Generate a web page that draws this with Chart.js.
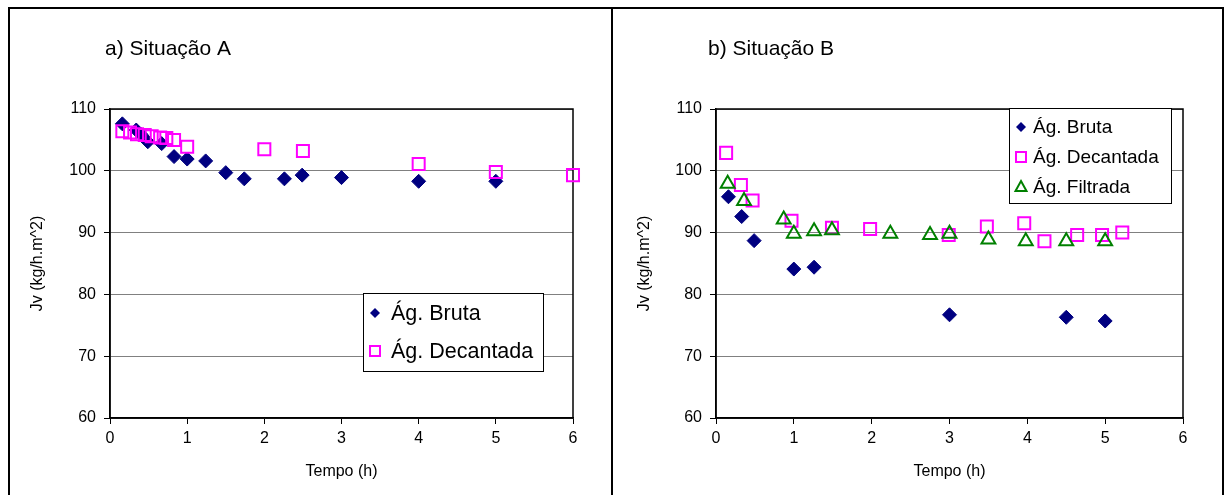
<!DOCTYPE html>
<html>
<head>
<meta charset="utf-8">
<script src="https://cdn.jsdelivr.net/npm/chart.js@4.4.1/dist/chart.umd.min.js"></script>
<style>
  html, body { margin:0; padding:0; background:#fff; width:1227px; height:495px; overflow:hidden; }
  #frame { position:absolute; left:8px; top:7px; width:1212px; height:492px; border-top:2px solid #000; border-left:2px solid #000; border-right:2px solid #000; }
  #divider { position:absolute; left:611px; top:7px; width:2px; height:492px; background:#000; }
  .wrap { position:absolute; top:8px; height:487px; }
  #wa { left:10px; width:601px; }
  #wb { left:613px; width:607px; }
</style>
</head>
<body>
<div id="frame"></div>
<div id="divider"></div>
<div class="wrap" id="wa"><canvas id="ca" width="601" height="487"></canvas></div>
<div class="wrap" id="wb"><canvas id="cb" width="607" height="487"></canvas></div>
<script>
// ---- Data ----
const titleA = "a) Situação A";
const titleB = "b) Situação B";
const xTitle = "Tempo (h)";
const yTitle = "Jv (kg/h.m^2)";
const seriesNames = ["Ág. Bruta", "Ág. Decantada", "Ág. Filtrada"];

const aBrutaT = [0.16, 0.34, 0.40, 0.49, 0.67, 0.83, 1.0, 1.24, 1.5, 1.74, 2.26, 2.49, 3.0, 4.0, 5.0];
const aBrutaV = [107.6, 106.6, 105.9, 104.7, 104.4, 102.3, 101.9, 101.6, 99.7, 98.7, 98.7, 99.3, 98.9, 98.3, 98.3];
const aDecT = [0.16, 0.26, 0.35, 0.45, 0.54, 0.65, 0.73, 0.83, 1.0, 2.0, 2.5, 4.0, 5.0, 6.0];
const aDecV = [106.4, 106.2, 105.9, 105.8, 105.6, 105.4, 105.3, 105.0, 103.9, 103.5, 103.2, 101.1, 99.8, 99.3];

const bBrutaT = [0.16, 0.33, 0.49, 1.0, 1.26, 3.0, 4.5, 5.0];
const bBrutaV = [95.8, 92.6, 88.7, 84.1, 84.4, 76.7, 76.3, 75.7];
const bDecT = [0.13, 0.32, 0.47, 0.97, 1.49, 1.98, 2.99, 3.48, 3.96, 4.22, 4.64, 4.96, 5.22];
const bDecV = [102.9, 97.7, 95.2, 91.9, 90.8, 90.6, 89.6, 91.0, 91.5, 88.6, 89.6, 89.6, 90.0];
const bFilT = [0.15, 0.36, 0.87, 1.0, 1.26, 1.49, 2.24, 2.75, 3.0, 3.5, 3.98, 4.5, 5.0];
const bFilV = [97.9, 95.1, 92.1, 89.8, 90.2, 90.4, 89.8, 89.6, 89.8, 88.9, 88.6, 88.6, 88.6];

const xTicks = [0, 1, 2, 3, 4, 5, 6];
const yTicks = [60, 70, 80, 90, 100, 110];

// ---- Styles ----
const FONT = "'Liberation Sans', Arial, sans-serif";
const NAVY = '#000080', MAG = '#FF00FF', GREEN = '#008000';
const styles = {
  bruta: { pointStyle:'rectRot', radius:7, backgroundColor:NAVY, borderColor:NAVY, borderWidth:1 },
  dec:   { pointStyle:'rect', radius:8.5, backgroundColor:'rgba(0,0,0,0)', borderColor:MAG, borderWidth:2 },
  fil:   { pointStyle:'triangle', radius:8, backgroundColor:'rgba(0,0,0,0)', borderColor:GREEN, borderWidth:2 }
};

function pts(t, v) { return t.map((x, i) => ({ x: x, y: v[i] })); }

function ds(label, data, st, order) {
  return {
    label, data, order, clip: false, showLine: false,
    pointStyle: st.pointStyle, pointRadius: st.radius, pointHoverRadius: st.radius,
    pointBackgroundColor: st.backgroundColor, pointBorderColor: st.borderColor,
    pointBorderWidth: st.borderWidth, backgroundColor: st.backgroundColor, borderColor: st.borderColor
  };
}

function drawMarker(ctx, kind, x, y) {
  ctx.save();
  if (kind === 'bruta') {
    ctx.fillStyle = NAVY; ctx.beginPath();
    ctx.moveTo(x, y - 5); ctx.lineTo(x + 5, y); ctx.lineTo(x, y + 5); ctx.lineTo(x - 5, y); ctx.closePath(); ctx.fill();
  } else if (kind === 'dec') {
    ctx.strokeStyle = MAG; ctx.lineWidth = 2; ctx.strokeRect(x - 5, y - 5, 10, 10);
  } else {
    ctx.strokeStyle = GREEN; ctx.lineWidth = 2; ctx.beginPath();
    ctx.moveTo(x, y - 6); ctx.lineTo(x + 5.5, y + 4); ctx.lineTo(x - 5.5, y + 4); ctx.closePath(); ctx.stroke();
  }
  ctx.restore();
}

function makeChart(canvasId, cfg) {
  const boxPlugin = {
    id: 'box' + canvasId,
    beforeDatasetsDraw(chart) {
      const { ctx, chartArea: a } = chart;
      ctx.save();
      ctx.strokeStyle = '#000'; ctx.lineWidth = 1.5;
      ctx.strokeRect(a.left, a.top, a.right - a.left, a.bottom - a.top);
      ctx.restore();
    },
    afterDraw(chart) {
      const ctx = chart.ctx;
      ctx.save();
      ctx.fillStyle = '#000';
      ctx.font = cfg.titleSize + 'px ' + FONT;
      ctx.textBaseline = 'middle';
      ctx.fillText(cfg.title, cfg.titleX, cfg.titleY);
      const L = cfg.legend;
      ctx.fillStyle = '#fff';
      ctx.fillRect(L.x, L.y, L.w, L.h);
      ctx.strokeStyle = '#000'; ctx.lineWidth = 1;
      ctx.strokeRect(L.x + 0.5, L.y + 0.5, L.w, L.h);
      ctx.font = L.font + 'px ' + FONT;
      L.items.forEach((it, i) => {
        const yy = L.firstY + i * L.step;
        drawMarker(ctx, it.kind, L.x + L.markerDx, yy);
        ctx.fillStyle = '#000';
        ctx.fillText(it.label, L.x + L.textDx, yy + 1);
      });
      ctx.restore();
    }
  };

  return new Chart(document.getElementById(canvasId), {
    type: 'scatter',
    data: { datasets: cfg.datasets },
    options: {
      responsive: false, animation: false,
      layout: { padding: { left: 0, top: cfg.areaTop, right: cfg.padRight, bottom: 0 } },
      plugins: { legend: { display: false }, tooltip: { enabled: false }, title: { display: false } },
      scales: {
        x: {
          type: 'linear', min: 0, max: 6,
          afterFit(s) { s.height = cfg.xHeight; },
          afterBuildTicks(s) { s.ticks = xTicks.map(v => ({ value: v })); },
          grid: { drawOnChartArea: false, tickColor: '#000', tickLength: 6, lineWidth: 1 },
          border: { display: true, color: '#000', width: 1.5 },
          ticks: { color: '#000', font: { family: FONT, size: 16 }, padding: 5, maxRotation: 0 },
          title: { display: true, text: xTitle, color: '#000', font: { family: FONT, size: 16 }, padding: { top: 0, bottom: 14 } }
        },
        y: {
          type: 'linear', min: 60, max: 110,
          afterFit(s) { s.width = cfg.yWidth; },
          afterBuildTicks(s) { s.ticks = yTicks.map(v => ({ value: v })); },
          grid: { color: '#808080', tickColor: '#000', tickLength: 6, lineWidth: 1 },
          border: { display: true, color: '#000', width: 1.5 },
          ticks: { color: '#000', font: { family: FONT, size: 16 }, padding: 8 },
          title: { display: true, text: yTitle, color: '#000', font: { family: FONT, size: 16 }, padding: { top: cfg.yTitlePad, bottom: 0 } }
        }
      }
    },
    plugins: [boxPlugin]
  });
}

// Left chart: canvas origin (10,8). Plot area 110..573 x, 109..418 y.
makeChart('ca', {
  title: titleA, titleX: 95, titleY: 41, titleSize: 21,
  areaTop: 101, padRight: 601 - 563, yWidth: 100, xHeight: 487 - 410, yTitlePad: 18,
  datasets: [
    ds(seriesNames[0], pts(aBrutaT, aBrutaV), styles.bruta, 1),
    ds(seriesNames[1], pts(aDecT, aDecV), styles.dec, 0)
  ],
  legend: { x: 353, y: 285, w: 180, h: 78, font: 21.5, markerDx: 12, textDx: 28, firstY: 305, step: 38,
    items: [{ kind: 'bruta', label: seriesNames[0] }, { kind: 'dec', label: seriesNames[1] }] }
});

// Right chart: canvas origin (613,8). Plot area 716..1183 x.
makeChart('cb', {
  title: titleB, titleX: 95, titleY: 41, titleSize: 21,
  areaTop: 101, padRight: 607 - 570, yWidth: 103, xHeight: 487 - 410, yTitlePad: 22,
  datasets: [
    ds(seriesNames[0], pts(bBrutaT, bBrutaV), styles.bruta, 2),
    ds(seriesNames[1], pts(bDecT, bDecV), styles.dec, 1),
    ds(seriesNames[2], pts(bFilT, bFilV), styles.fil, 0)
  ],
  legend: { x: 396, y: 100, w: 162, h: 95, font: 19, markerDx: 12, textDx: 24, firstY: 119, step: 30,
    items: [{ kind: 'bruta', label: seriesNames[0] }, { kind: 'dec', label: seriesNames[1] }, { kind: 'fil', label: seriesNames[2] }] }
});
</script>
</body>
</html>
